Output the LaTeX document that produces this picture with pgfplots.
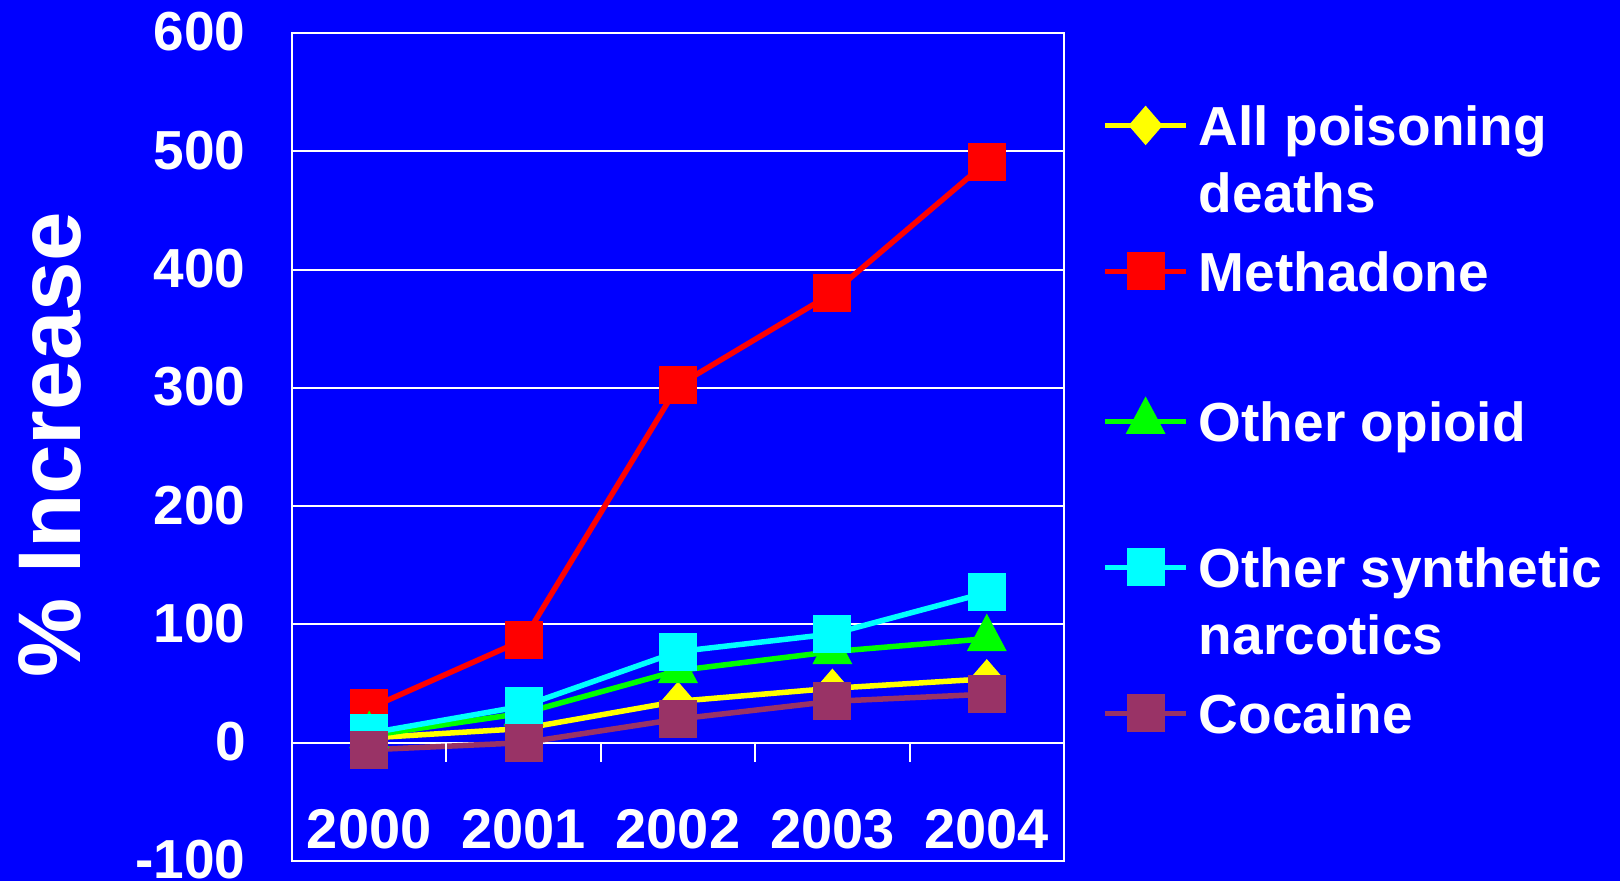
\documentclass[border=0pt]{standalone}
\usepackage{fontspec}
\setmainfont{Liberation Sans}
\usepackage{pgfplots}
\pgfplotsset{compat=1.18}
\definecolor{bgblue}{RGB}{0,0,255}
\definecolor{plum}{RGB}{153,51,102}
\definecolor{cyanx}{RGB}{0,255,255}
\definecolor{greenx}{RGB}{0,255,0}
\definecolor{yellowx}{RGB}{255,255,0}
\definecolor{redx}{RGB}{255,0,0}
\begin{document}
\begin{tikzpicture}
\fill[bgblue] (0,0) rectangle (810pt,440.5pt);
\useasboundingbox (0,0) rectangle (810pt,440.5pt);
\begin{axis}[
  at={(146pt,10pt)}, anchor=south west,
  width=386pt, height=414pt, scale only axis,
  xmin=-0.5, xmax=4.5, ymin=-100, ymax=600,
  xtick={0,...,4}, xticklabels={2000,2001,2002,2003,2004},
  ytick={-100,0,...,600},
  major tick length=0pt,
  ymajorgrids, grid style={white, line width=1pt},
  axis line style={white, line width=1pt},
  /pgf/number format/assume math mode=true,
  tick label style={text=white},
  xticklabel style={font=\fontsize{28pt}{28pt}\selectfont\bfseries, anchor=base, yshift=6pt, inner sep=0pt},
  yticklabel style={font=\fontsize{27.5pt}{27.5pt}\selectfont\bfseries, anchor=east, inner sep=0pt, xshift=-23pt, yshift=0.5pt},
  ylabel={\% Increase},
  ylabel style={at={(axis description cs:-0.2746,0.5026)}, anchor=base, rotate=0, text=white, inner sep=0pt,
    font=\fontsize{44.5pt}{44.5pt}\selectfont\bfseries},
  legend style={at={(axis description cs:1.0492,0.9130)}, anchor=north west, draw=none, fill=none,
    inner sep=0pt, text=white, font=\fontsize{27.5pt}{33.5pt}\selectfont\bfseries,
    column sep=5pt, row sep=0pt,
    nodes={inner sep=0pt, text height=20pt, text depth=53pt},
    cells={anchor=base west}},
  legend image code/.code={\draw[mark repeat=2,mark phase=2,#1] plot coordinates {(0pt,10pt)(20.25pt,10pt)(40.5pt,10pt)};},
  every axis plot/.append style={line width=2.75pt},
]
\addplot[yellowx, mark=diamond*, mark size=9.5pt, mark options={solid, line width=0.5pt, fill=yellowx, xscale=1.15}]
  coordinates {(0,4)(1,12)(2,35)(3,46)(4,54)};
\addlegendentry{\vtop{\hbox{All poisoning}\hbox{deaths}}}
\addplot[redx, mark=square*, mark size=9.25pt, mark options={solid, line width=0.5pt, fill=redx}]
  coordinates {(0,29)(1,87)(2,302)(3,380)(4,491)};
\addlegendentry{Methadone}
\addplot[greenx, mark=triangle*, mark size=12pt, mark options={solid, line width=0.5pt, fill=greenx, xscale=0.92}]
  coordinates {(0,6)(1,25)(2,61)(3,77)(4,88)};
\addlegendentry{Other opioid}
\addplot[cyanx, mark=square*, mark size=9.25pt, mark options={solid, line width=0.5pt, fill=cyanx}]
  coordinates {(0,8)(1,31)(2,77)(3,92)(4,127)};
\addlegendentry{\vtop{\hbox{Other synthetic}\hbox{narcotics}}}
\addplot[plum, mark=square*, mark size=9.25pt, mark options={solid, line width=0.5pt, fill=plum}]
  coordinates {(0,-6)(1,0)(2,20)(3,35)(4,41)};
\addlegendentry{Cocaine}
\pgfplotsinvokeforeach{0.5,1.5,2.5,3.5}{\draw[white, line width=1pt] (axis cs:#1,0) -- ++(0pt,-9.5pt);}
\end{axis}
\end{tikzpicture}
\end{document}
